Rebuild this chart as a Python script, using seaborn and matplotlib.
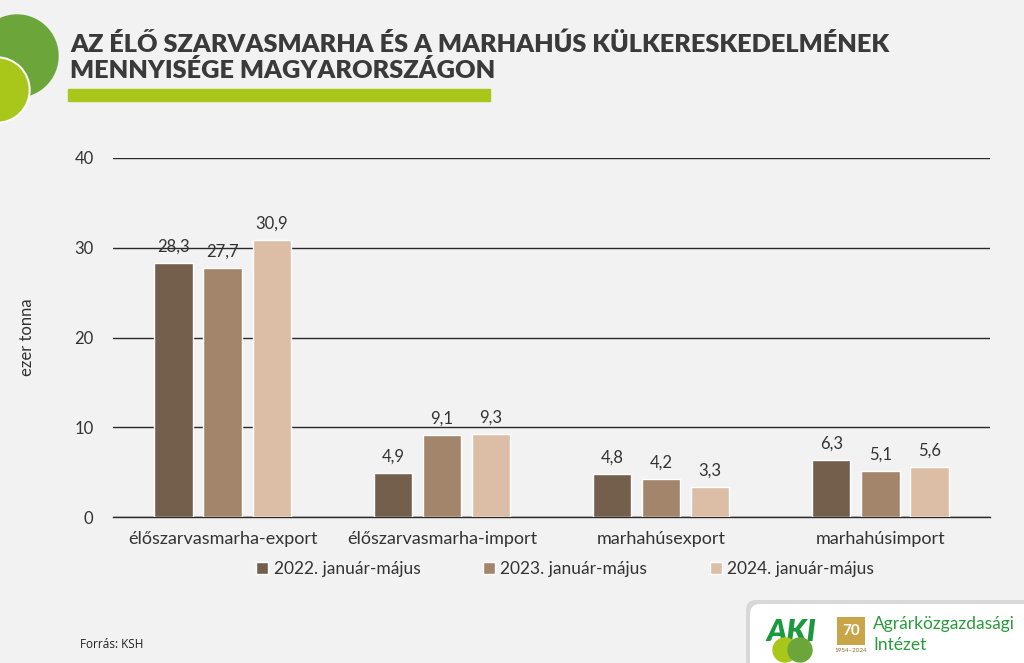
import matplotlib
matplotlib.use("Agg")
import matplotlib.pyplot as plt
import seaborn as sns
import pandas as pd
from matplotlib.patches import Circle, FancyBboxPatch, Rectangle

categories = ["élőszarvasmarha-export", "élőszarvasmarha-import", "marhahúsexport", "marhahúsimport"]
series = ["2022. január-május", "2023. január-május", "2024. január-május"]
v2022 = [28.3, 4.9, 4.8, 6.3]
v2023 = [27.7, 9.1, 4.2, 5.1]
v2024 = [30.9, 9.3, 3.3, 5.6]
yticks = [0, 10, 20, 30, 40]
colors = ["#735f4c", "#a3856b", "#dcbea7"]

rows = []
for s, vals in zip(series, [v2022, v2023, v2024]):
    for c, v in zip(categories, vals):
        rows.append({"cat": c, "series": s, "value": v})
df = pd.DataFrame(rows)

sns.set_theme(style="white")
plt.rcParams["font.family"] = ["Lato", "DejaVu Sans"]
BG = "#f2f2f2"
fig = plt.figure(figsize=(10.24, 6.63), dpi=100, facecolor=BG)
ax = fig.add_axes([113/1024, 1-517/663, (990-113)/1024, (517-158)/663])
ax.set_facecolor(BG)

sns.barplot(data=df, x="cat", y="value", hue="series", order=categories,
            hue_order=series, palette=colors, width=0.671, gap=0.22,
            saturation=1, ax=ax, legend=True, zorder=3)

for cont in ax.containers:
    ax.bar_label(cont, labels=[f"{v:.1f}".replace(".", ",") for v in cont.datavalues],
                 padding=6, fontsize=12, color="#333333")

ax.set_ylim(0, 40)
ax.set_yticks(yticks)
ax.set_xlim(-0.5, len(categories) - 0.5)
ax.yaxis.grid(True, color="#2a2a2a", linewidth=1.0, zorder=0)
ax.set_axisbelow(True)
for sp in ["top", "right", "left"]:
    ax.spines[sp].set_visible(False)
ax.spines["bottom"].set_color("#2a2a2a")
ax.spines["bottom"].set_linewidth(1.0)
ax.tick_params(axis="y", length=0, pad=14, labelsize=12, labelcolor="#333333")
ax.tick_params(axis="x", length=0, pad=10, labelsize=13, labelcolor="#333333")
ax.set_xlabel("")
ax.set_ylabel("ezer tonna", fontsize=12, color="#333333", labelpad=28)

leg = ax.legend(loc="center", bbox_to_anchor=(565/1024, 1-569/663), bbox_transform=fig.transFigure,
                ncol=3, frameon=False, fontsize=12.5, handlelength=0.7, handleheight=0.7,
                handletextpad=0.3, columnspacing=3.6)
for t in leg.get_texts():
    t.set_color("#333333")

# Title
fig.text(70/1024, 1-44/663, "AZ ÉLŐ SZARVASMARHA ÉS A MARHAHÚS KÜLKERESKEDELMÉNEK",
         fontsize=18.2, fontweight="heavy", color="#3a3a3a", va="center", ha="left")
fig.text(70/1024, 1-71/663, "MENNYISÉGE MAGYARORSZÁGON",
         fontsize=18.2, fontweight="heavy", color="#3a3a3a", va="center", ha="left")
fig.patches.append(Rectangle((68/1024, 1-101/663), (490-68)/1024, 12/663,
                             transform=fig.transFigure, color="#a9c71b", zorder=2))

# Decorative circles (in pixel space via an overlay axes)
deco = fig.add_axes([0, 0, 1, 1], zorder=-1)
deco.set_xlim(0, 1024)
deco.set_ylim(663, 0)
deco.axis("off")
deco.set_aspect("auto")
deco.add_patch(Circle((17, 56), 41, color="#6ca53a", zorder=1))
deco.add_patch(Circle((-3, 90), 33, color="white", zorder=2))
deco.add_patch(Circle((-3, 90), 31, color="#a9c71b", zorder=3))

# Logo box
over = fig.add_axes([0, 0, 1, 1], zorder=5)
over.set_xlim(0, 1024)
over.set_ylim(663, 0)
over.axis("off")
over.patch.set_alpha(0)
over.add_patch(FancyBboxPatch((746, 600), 300, 70, boxstyle="round,pad=0,rounding_size=10",
                              facecolor="#d8d8d8", edgecolor="none", zorder=1))
over.add_patch(FancyBboxPatch((750, 604), 300, 70, boxstyle="round,pad=0,rounding_size=10",
                              facecolor="white", edgecolor="none", zorder=2))
over.text(766, 632, "AKI", fontsize=22, fontweight="heavy", color="#1a9a3c",
          ha="left", va="center", zorder=3, fontstyle="italic")
over.add_patch(Circle((785, 650), 12, color="#a9c71b", zorder=3))
over.add_patch(Circle((800, 650), 12, color="#6ca53a", zorder=3))
over.add_patch(Rectangle((837, 617), 28, 28, facecolor="#c9a54a", edgecolor="none", zorder=3))
over.text(851, 631, "70", fontsize=11, fontweight="bold", color="white", ha="center", va="center", zorder=4)
over.text(851, 650, "1954–2024", fontsize=4.5, color="#8a6d2a", ha="center", va="center", zorder=4)
over.text(873, 624, "Agrárközgazdasági", fontsize=12.5, color="#2a9a3c", ha="left", va="center", zorder=3)
over.text(873, 645, "Intézet", fontsize=12.5, color="#2a9a3c", ha="left", va="center", zorder=3)

fig.text(80/1024, 1-645/663, "Forrás: KSH", fontsize=8.5, color="#222222",
         family=["Open Sans", "DejaVu Sans"], va="center", ha="left")

fig.savefig("out.png", dpi=100, facecolor=BG)
